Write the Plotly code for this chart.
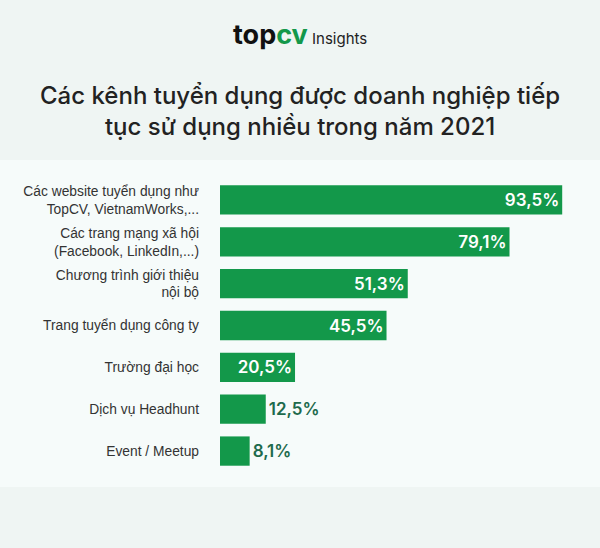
import plotly.graph_objects as go

categories = [
    "Các website tuyển dụng như<br>TopCV, VietnamWorks,...",
    "Các trang mạng xã hội<br>(Facebook, LinkedIn,...)",
    "Chương trình giới thiệu<br>nội bộ",
    "Trang tuyển dụng công ty",
    "Trường đại học",
    "Dịch vụ Headhunt",
    "Event / Meetup",
]
values = [93.5, 79.1, 51.3, 45.5, 20.5, 12.5, 8.1]
value_labels = ["93,5%", "79,1%", "51,3%", "45,5%", "20,5%", "12,5%", "8,1%"]
inside = [True, True, True, True, True, False, False]

BAR = "#13984a"
OUT_TXT = "#1d6a4c"

fig = go.Figure()
fig.add_trace(go.Bar(
    y=categories, x=values, orientation="h",
    marker=dict(color=BAR, line=dict(width=0)),
    text=value_labels,
    textposition=["inside" if i else "outside" for i in inside],
    insidetextanchor="end",
    textfont=dict(family="Inter", size=17, color=["white" if i else OUT_TXT for i in inside], weight=600),
    outsidetextfont=dict(family="Inter", size=17, color=OUT_TXT, weight=600),
    insidetextfont=dict(family="Inter", size=17, color="white", weight=600),
    cliponaxis=False,
    constraintext="none",
    hoverinfo="skip",
))

fig.update_layout(
    width=600, height=548,
    margin=dict(l=220, r=14, t=179, b=76),
    paper_bgcolor="#eff5f3",
    plot_bgcolor="rgba(0,0,0,0)",
    bargap=0.3,
    showlegend=False,
    xaxis=dict(range=[0, 100], visible=False, fixedrange=True),
    yaxis=dict(autorange="reversed", showgrid=False, zeroline=False, showline=False,
               ticks="", ticklabelstandoff=20, fixedrange=True,
               tickfont=dict(family="Liberation Sans", size=13.8, color="#333333")),
    font=dict(family="Inter"),
)

# lighter band behind chart
fig.add_shape(type="rect", xref="paper", yref="paper", x0=-0.62, x1=1.05,
              y0=-(487 - 472) / 293, y1=1 + (179 - 160) / 293,
              fillcolor="#f6fbfa", line=dict(width=0), layer="below")

# logo
fig.add_annotation(xref="paper", yref="paper", x=(300 - 220) / 366, y=1 + (179 - 34) / 293,
                   xanchor="center", yanchor="middle", showarrow=False,
                   text="<span style='color:#111111;font-size:27px'><b>top</b></span><span style='color:#13984a;font-size:27px'><b>cv</b></span><span style='color:#222222;font-size:15px'> Insights</span>",
                   font=dict(family="Inter", size=15, color="#222222"))

# title
fig.add_annotation(xref="paper", yref="paper", x=(300 - 220) / 366, y=1 + (179 - 111) / 293,
                   xanchor="center", yanchor="middle", showarrow=False, align="center",
                   text="Các kênh tuyển dụng được doanh nghiệp tiếp<br>tục sử dụng nhiều trong năm 2021",
                   font=dict(family="Inter", size=24, color="#222222", weight=500))

fig.write_html("out.html", config={"displayModeBar": False},
               post_script="document.body.style.margin='0';document.body.style.padding='0';document.body.style.overflow='hidden';")
